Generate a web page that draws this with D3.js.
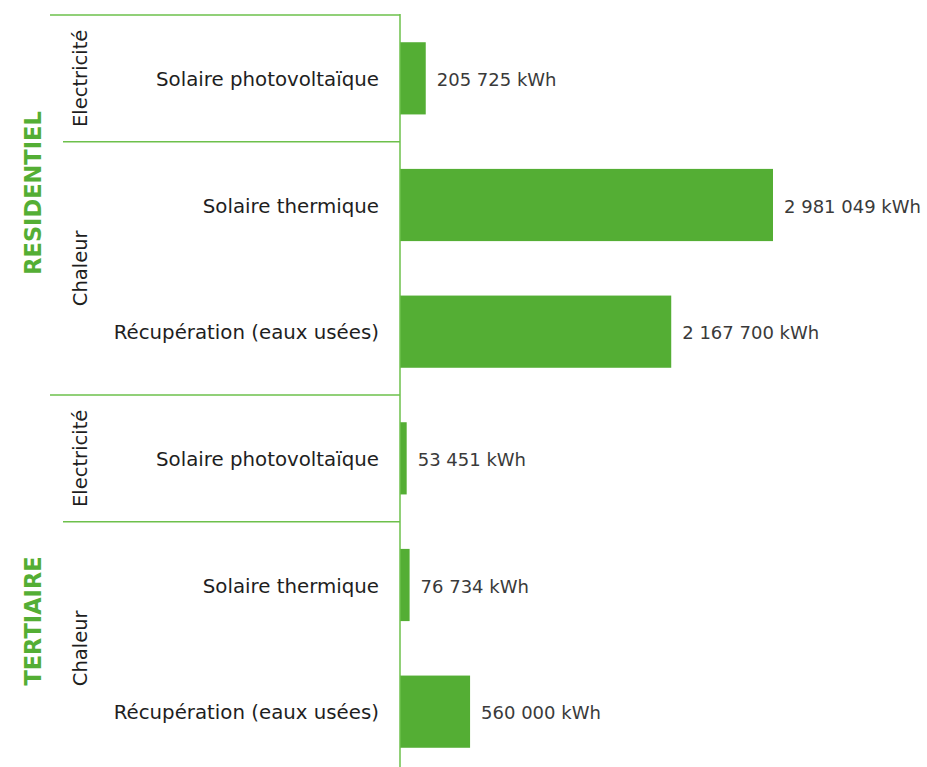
<!DOCTYPE html>
<html>
<head>
<meta charset="utf-8">
<script src="https://cdn.jsdelivr.net/npm/d3@7"></script>
<style>
  body { margin: 0; background: #fff; }
  text { font-family: "DejaVu Sans", sans-serif; }
</style>
</head>
<body>
<div id="wrapper"></div>
<script>
// data
const sections = ["RESIDENTIEL", "TERTIAIRE"]
const subgroups = ["Electricité", "Chaleur", "Electricité", "Chaleur"]
const subgroupSection = [0, 0, 1, 1]
const categories = [
    "Solaire photovoltaïque",
    "Solaire thermique",
    "Récupération (eaux usées)",
    "Solaire photovoltaïque",
    "Solaire thermique",
    "Récupération (eaux usées)"
]
const rowSubgroup = [0, 1, 1, 2, 3, 3]
const values = [205725, 2981049, 2167700, 53451, 76734, 560000]

const green = "#54ae34"
const lineGreen = "#6dc04b"

const dimensions = {
    width: 927,
    height: 767,
    axisX: 400,
    top: 15,
    rowsBottom: 775
}

const rows = values.map((v, i) => ({ ind: i, value: v, label: categories[i], sub: rowSubgroup[i] }))

const fr = d3.formatLocale({ decimal: ",", thousands: "\u00a0", grouping: [3], currency: ["", " €"] })
const fmt = fr.format(",d")

const wrapper = d3.select("#wrapper").append("svg")
    .attr("width", dimensions.width)
    .attr("height", dimensions.height)

const yScale = d3.scaleBand()
    .domain(rows.map(d => d.ind))
    .range([dimensions.top, dimensions.rowsBottom])
    .paddingInner(0.43)
    .paddingOuter(0.215)

const step = yScale.step()
const rowTop = i => dimensions.top + i * step

const xScale = d3.scaleLinear()
    .domain([0, d3.max(values)])
    .range([dimensions.axisX, dimensions.axisX + 373])

// bars
wrapper.append("g").selectAll("rect").data(rows).enter()
    .append("rect")
    .attr("x", xScale(0))
    .attr("y", d => yScale(d.ind))
    .attr("width", d => xScale(d.value) - xScale(0))
    .attr("height", yScale.bandwidth())
    .attr("fill", green)

// value labels
wrapper.append("g").selectAll("text").data(rows).enter()
    .append("text")
    .attr("x", d => xScale(d.value) + 11)
    .attr("y", d => yScale(d.ind) + yScale.bandwidth() / 2 + 1)
    .attr("dominant-baseline", "central")
    .style("font-size", "18px")
    .style("fill", "#3a3a3a")
    .text(d => fmt(d.value) + " kWh")

// category labels
wrapper.append("g").selectAll("text").data(rows).enter()
    .append("text")
    .attr("x", dimensions.axisX - 21)
    .attr("y", d => yScale(d.ind) + yScale.bandwidth() / 2 + 1)
    .attr("dominant-baseline", "central")
    .attr("text-anchor", "end")
    .style("font-size", "19.8px")
    .style("fill", "#1e1e1e")
    .text(d => d.label)

// separator lines
const subInfo = subgroups.map((s, k) => {
    const idx = rows.filter(r => r.sub === k).map(r => r.ind)
    const first = d3.min(idx), last = d3.max(idx)
    const sectionStart = k === 0 || subgroupSection[k] !== subgroupSection[k - 1]
    return { label: s, first: first, last: last, sectionStart: sectionStart }
})

wrapper.append("g").selectAll("line").data(subInfo).enter()
    .append("line")
    .attr("x1", d => d.sectionStart ? 50 : 63)
    .attr("x2", dimensions.axisX)
    .attr("y1", d => rowTop(d.first))
    .attr("y2", d => rowTop(d.first))
    .attr("stroke", lineGreen)
    .attr("stroke-width", 1.5)

wrapper.append("line")
    .attr("x1", dimensions.axisX).attr("x2", dimensions.axisX)
    .attr("y1", dimensions.top - 1).attr("y2", dimensions.height)
    .attr("stroke", lineGreen)
    .attr("stroke-width", 1.5)

// subgroup labels (rotated)
wrapper.append("g").selectAll("text").data(subInfo).enter()
    .append("text")
    .attr("transform", d => {
        const cy = (rowTop(d.first) + rowTop(d.last + 1)) / 2
        return `translate(80,${cy}) rotate(-90)`
    })
    .attr("text-anchor", "middle")
    .attr("dominant-baseline", "central")
    .style("font-size", "19.5px")
    .style("fill", "#1e1e1e")
    .text(d => d.label)

// section labels
const sectionShift = [-12, 36]
wrapper.append("g").selectAll("text").data(sections).enter()
    .append("text")
    .attr("transform", (d, i) => {
        const subs = subInfo.filter((s, k) => subgroupSection[k] === i)
        const y0 = rowTop(d3.min(subs, s => s.first))
        const y1 = rowTop(d3.max(subs, s => s.last) + 1)
        return `translate(33,${(y0 + y1) / 2 + sectionShift[i]}) rotate(-90)`
    })
    .attr("text-anchor", "middle")
    .attr("dominant-baseline", "central")
    .style("font-size", "22.5px")
    .style("font-weight", "bold")
    .style("fill", green)
    .text(d => d)
</script>
</body>
</html>
